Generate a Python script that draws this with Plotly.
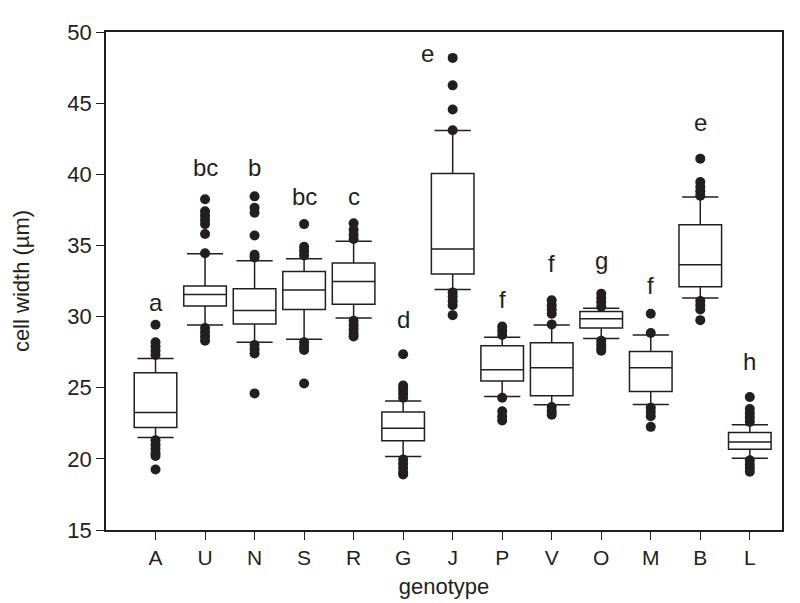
import plotly.graph_objects as go

categories = ["A", "U", "N", "S", "R", "G", "J", "P", "V", "O", "M", "B", "L"]

q1 = [22.2, 30.75, 29.47, 30.5, 30.87, 21.27, 33.0, 25.47, 24.44, 29.2, 24.73, 32.1, 20.68]
median = [23.25, 31.55, 30.43, 31.86, 32.47, 22.15, 34.75, 26.27, 26.4, 29.84, 26.4, 33.65, 21.18]
q3 = [26.05, 32.14, 31.95, 33.16, 33.76, 23.3, 40.06, 27.95, 28.16, 30.36, 27.55, 36.45, 21.85]
lower_whisker = [21.5, 29.4, 28.19, 28.4, 29.9, 20.16, 31.9, 24.39, 23.8, 28.46, 23.82, 31.3, 20.04]
upper_whisker = [27.05, 34.42, 33.92, 34.06, 35.3, 24.06, 43.08, 28.55, 29.4, 30.58, 28.7, 38.4, 22.4]

outliers = [
    [27.3, 27.6, 27.9, 28.2, 29.42, 21.3, 21.0, 20.7, 20.4, 20.2, 19.25],
    [34.45, 35.8, 36.5, 36.8, 37.1, 37.4, 38.25, 29.2, 28.9, 28.6, 28.3],
    [34.15, 34.35, 35.7, 37.3, 37.65, 38.45, 28.0, 27.7, 27.4, 24.6],
    [34.3, 34.6, 34.9, 36.5, 28.2, 27.9, 27.65, 25.3],
    [35.45, 35.75, 36.1, 36.55, 29.7, 29.4, 29.1, 28.8, 28.6],
    [24.3, 24.6, 24.9, 25.15, 27.35, 19.95, 19.65, 19.35, 19.05, 18.9],
    [43.1, 44.55, 46.25, 48.18, 31.7, 31.4, 31.1, 30.8, 30.1],
    [28.7, 29.0, 29.3, 24.3, 23.35, 23.0, 22.7],
    [29.45, 30.2, 30.5, 30.8, 31.15, 23.65, 23.35, 23.1],
    [30.7, 31.0, 31.3, 31.6, 28.3, 28.05, 27.8, 27.6],
    [28.85, 30.2, 23.6, 23.3, 23.0, 22.25],
    [38.5, 38.8, 39.1, 39.45, 41.1, 31.1, 30.8, 30.5, 29.75],
    [22.6, 22.9, 23.2, 23.5, 24.35, 19.9, 19.6, 19.35, 19.1],
]

letters = ["a", "bc", "b", "bc", "c", "d", "e", "f", "f", "g", "f", "e", "h"]
letter_y = [30.3, 39.8, 39.8, 37.75, 37.75, 29.15, 47.85, 30.5, 33.05, 33.25, 31.55, 43.0, 26.15]
letter_shift = [0, 0, 0, 0, 0, 0, -25, 0, 0, 0, 0, 0, 0]

INK = "#231f20"
FONT = "Liberation Sans, Arial, sans-serif"

positions = list(range(len(categories)))

fig = go.Figure()

fig.add_trace(go.Box(
    x=positions,
    q1=q1, median=median, q3=q3,
    lowerfence=lower_whisker, upperfence=upper_whisker,
    width=0.86,
    whiskerwidth=0.85,
    fillcolor="white",
    line=dict(color=INK, width=1.5),
    boxpoints=False,
    showlegend=False,
    hoverinfo="skip",
))

ox, oy = [], []
for i, vals in enumerate(outliers):
    for v in vals:
        ox.append(i)
        oy.append(v)

fig.add_trace(go.Scatter(
    x=ox, y=oy, mode="markers",
    marker=dict(size=10, color=INK, line=dict(width=0)),
    showlegend=False, hoverinfo="skip",
))

for i, (t, yv, sh) in enumerate(zip(letters, letter_y, letter_shift)):
    fig.add_annotation(
        x=i, y=yv, text=t, showarrow=False,
        xanchor="center", yanchor="bottom", yshift=-6, xshift=sh,
        font=dict(family=FONT, size=24, color=INK),
    )

fig.update_layout(
    width=800, height=603,
    margin=dict(l=98, r=26, t=13, b=81),
    paper_bgcolor="white", plot_bgcolor="white",
    font=dict(family=FONT, color=INK),
)

fig.update_xaxes(
    range=[-1.0, 12.65],
    tickmode="array", tickvals=positions, ticktext=categories,
    ticks="outside", ticklen=8, tickwidth=1.4, tickcolor=INK,
    showline=True, linecolor=INK, linewidth=1.6, mirror=True,
    showgrid=False, zeroline=False,
    tickfont=dict(family=FONT, size=21, color=INK),
    title=dict(text="genotype", font=dict(family=FONT, size=22, color=INK), standoff=11),
)

fig.update_yaxes(
    range=[15, 50], tickmode="linear", tick0=15, dtick=5,
    ticks="outside", ticklen=8, tickwidth=1.4, tickcolor=INK,
    showline=True, linecolor=INK, linewidth=1.6, mirror=True,
    showgrid=False, zeroline=False,
    tickfont=dict(family=FONT, size=22, color=INK),
    title=dict(text="cell width (µm)", font=dict(family=FONT, size=22, color=INK), standoff=32),
)

fig.write_html("out.html")
